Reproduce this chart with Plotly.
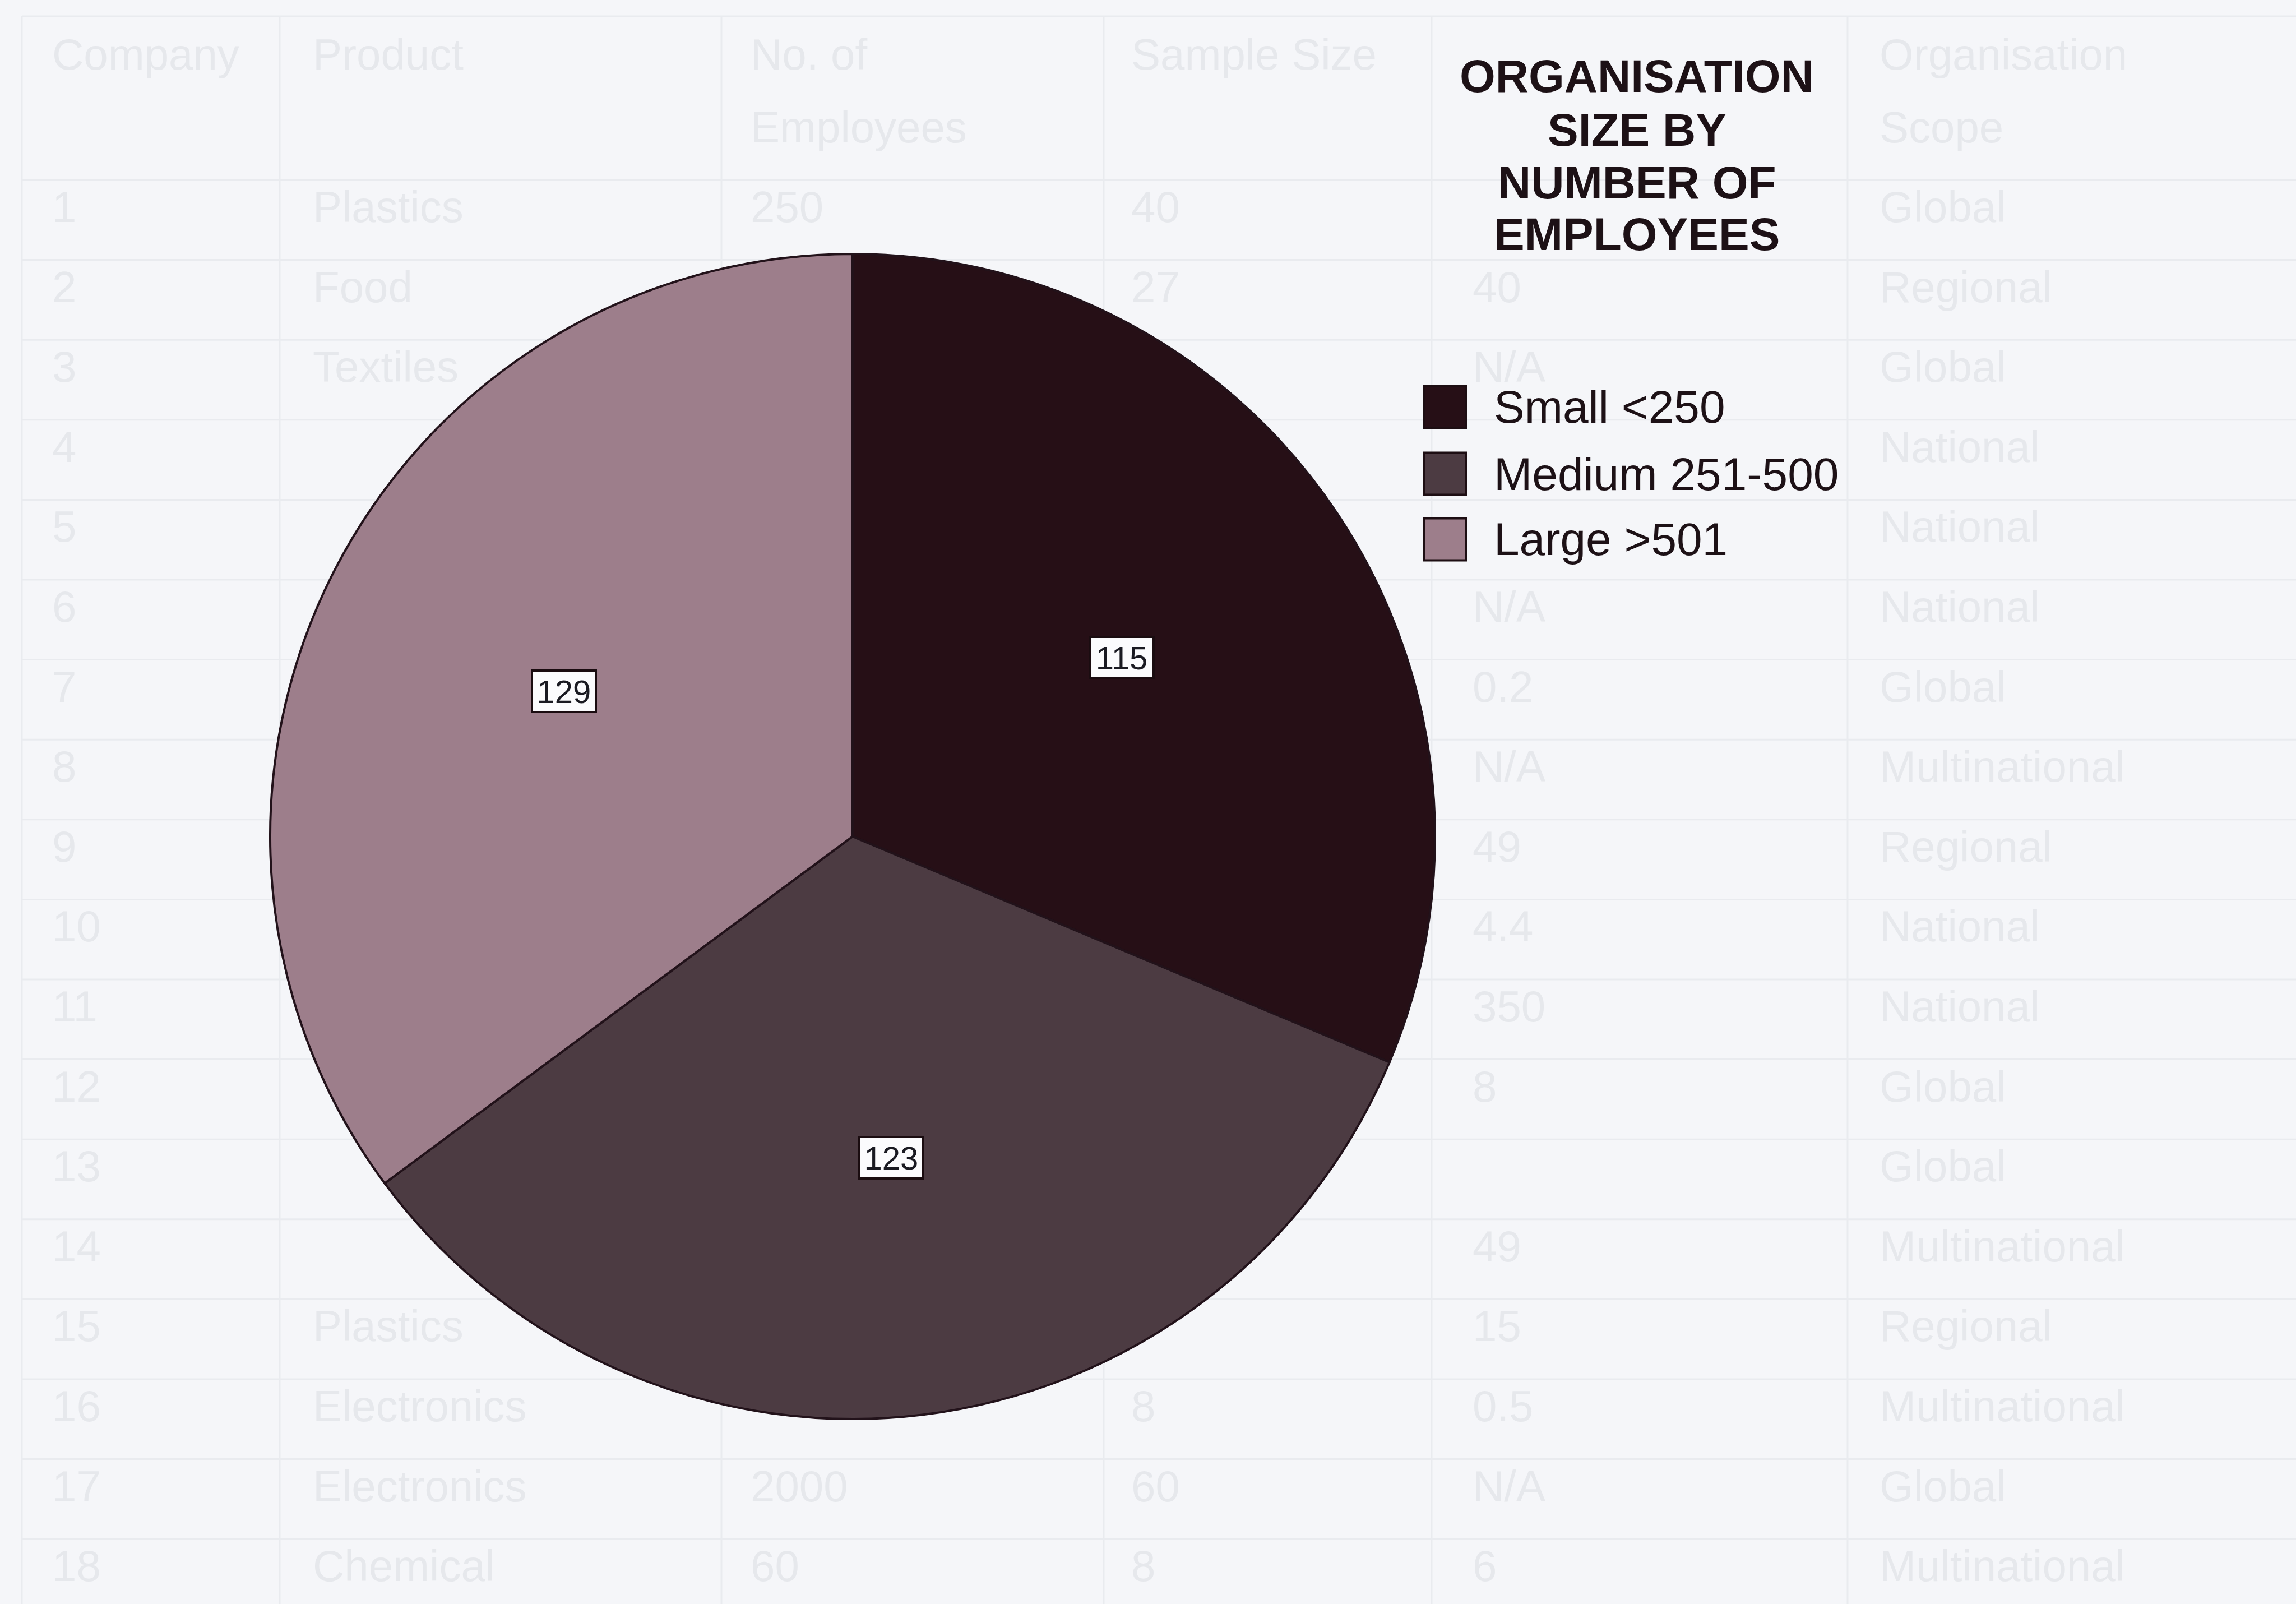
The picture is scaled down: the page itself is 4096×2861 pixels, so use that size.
import math
import plotly.graph_objects as go

# ---- chart data -------------------------------------------------------------
categories = ["Small <250", "Medium 251-500", "Large >501"]
values = [115, 123, 129]
slice_colors = ["#260f16", "#4c3b42", "#9d7e8b"]
title_lines = ["ORGANISATION", "SIZE BY", "NUMBER OF", "EMPLOYEES"]

# faint table printed on the page behind the chart
table_header_1 = ["Company", "Product", "No. of", "Sample Size", "", "Organisation"]
table_header_2 = ["", "", "Employees", "", "", "Scope"]
row_ids = [str(i) for i in range(1, 19)]
products = ["Plastics", "Food", "Textiles", "", "", "", "", "", "", "", "", "", "", "",
            "Plastics", "Electronics", "Electronics", "Chemical"]
employees = ["250", "", "", "", "", "", "", "", "", "", "", "", "", "", "", "", "2000", "60"]
sample_size = ["40", "27", "", "", "", "", "", "", "", "", "", "", "", "", "", "8", "60", "8"]
turnover = ["", "40", "N/A", "", "", "N/A", "0.2", "N/A", "49", "4.4", "350", "8", "", "49",
            "15", "0.5", "N/A", "6"]
scope = ["Global", "Regional", "Global", "National", "National", "National", "Global",
         "Multinational", "Regional", "National", "National", "Global", "Global",
         "Multinational", "Regional", "Multinational", "Global", "Multinational"]

# ---- canvas / layout geometry (pixels) -------------------------------------
W, H = 4096, 2861
BG = "#f5f6f9"
INK = "#1d1116"
FONT = "Liberation Sans, Arial, Helvetica, sans-serif"

cx, cy, R = 1521, 1492, 1039          # pie centre and radius
LABEL_R = 0.555                       # value boxes sit on the slice bisector


def px(x):
    return x / W


def py(y):
    return 1 - y / H


fig = go.Figure()

fig.add_trace(go.Pie(
    labels=categories,
    values=values,
    sort=False,
    direction="clockwise",
    rotation=0,
    textinfo="none",
    hoverinfo="label+value",
    showlegend=False,
    marker=dict(colors=slice_colors, line=dict(color="#22121a", width=4)),
    domain=dict(x=[px(cx - R), px(cx + R)], y=[py(cy + R), py(cy - R)]),
))

shapes = []
annotations = []

# ---- faint background table ------------------------------------------------
grid_color = "#e9ebef"
text_color = "#e6e8ec"
col_lines = [39, 499, 1287, 1969, 2554, 3296]
col_text = [91, 556, 1337, 2016, 2625, 3351]
top_line = 29
first_line, row_h = 321, 142.6

shapes.append(dict(type="line", xref="paper", yref="paper", layer="below",
                   x0=px(col_lines[0]), x1=1, y0=py(top_line), y1=py(top_line),
                   line=dict(color=grid_color, width=3)))
for k in range(len(row_ids)):
    yl = first_line + row_h * k
    shapes.append(dict(type="line", xref="paper", yref="paper", layer="below",
                       x0=px(col_lines[0]), x1=1, y0=py(yl), y1=py(yl),
                       line=dict(color=grid_color, width=3)))
for xl in col_lines:
    shapes.append(dict(type="line", xref="paper", yref="paper", layer="below",
                       x0=px(xl), x1=px(xl), y0=0, y1=py(top_line),
                       line=dict(color=grid_color, width=3)))


def faint(x, y, s):
    if s:
        annotations.append(dict(xref="paper", yref="paper", x=px(x), y=py(y),
                                xanchor="left", yanchor="middle", showarrow=False,
                                text=s, font=dict(family=FONT, size=78, color=text_color)))


for c in range(6):
    faint(col_text[c], 97, table_header_1[c])
    faint(col_text[c], 227, table_header_2[c])

columns = [row_ids, products, employees, sample_size, turnover, scope]
for r in range(len(row_ids)):
    yt = 369 + row_h * r
    for c, col in enumerate(columns):
        faint(col_text[c], yt, col[r])

# ---- value labels inside the slices ----------------------------------------
total = sum(values)
start = 0.0
for v in values:
    mid = (start + v / 2) / total * 2 * math.pi
    lx = cx + LABEL_R * R * math.sin(mid)
    ly = cy - LABEL_R * R * math.cos(mid)
    annotations.append(dict(
        xref="paper", yref="paper", x=px(lx), y=py(ly),
        xanchor="center", yanchor="middle", showarrow=False,
        text=str(v), width=104, height=64, align="center",
        bgcolor="#fbfbfd", bordercolor="#1a0c10", borderwidth=4, borderpad=3,
        font=dict(family=FONT, size=58, color="#1a1a22"),
    ))
    start += v

# ---- title ------------------------------------------------------------------
title_x = 2920
for line, yy in zip(title_lines, [136, 231, 326, 418]):
    annotations.append(dict(
        xref="paper", yref="paper", x=px(title_x), y=py(yy),
        xanchor="center", yanchor="middle", showarrow=False,
        text="<b>%s</b>" % line,
        font=dict(family=FONT, size=82, color=INK),
    ))

# ---- legend -----------------------------------------------------------------
sq_x0, sq = 2540, 75
text_x = 2663
for name, color, yc in zip(categories, slice_colors, [726, 845, 962]):
    shapes.append(dict(type="rect", xref="paper", yref="paper",
                       x0=px(sq_x0), x1=px(sq_x0 + sq),
                       y0=py(yc + sq / 2), y1=py(yc - sq / 2),
                       fillcolor=color, line=dict(color="#1d0e13", width=4)))
    annotations.append(dict(
        xref="paper", yref="paper", x=px(text_x), y=py(yc),
        xanchor="left", yanchor="middle", showarrow=False,
        text=name, font=dict(family=FONT, size=82, color=INK),
    ))

fig.update_layout(
    width=W, height=H,
    margin=dict(l=0, r=0, t=0, b=0),
    paper_bgcolor=BG, plot_bgcolor=BG,
    shapes=shapes, annotations=annotations,
    showlegend=False,
)

fig.write_html("out.html", config={"displayModeBar": False})
